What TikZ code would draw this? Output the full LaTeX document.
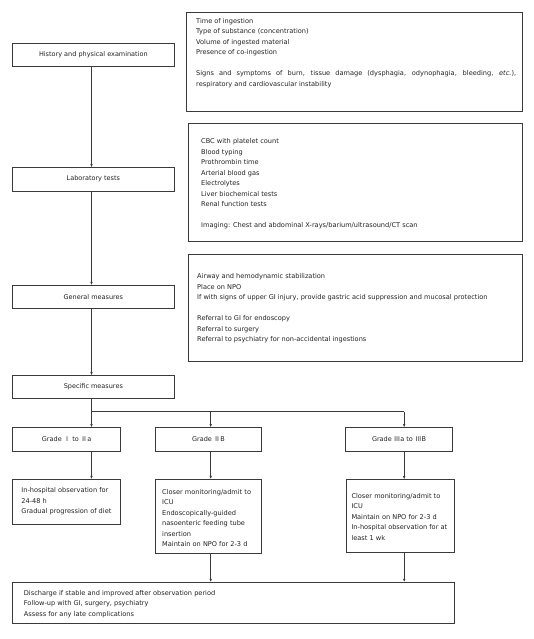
\documentclass[tikz,border=0pt]{standalone}
\usepackage{fontspec}
\setmainfont{DejaVu Sans}
\newfontfamily\cjk{Noto Sans CJK SC}
\usetikzlibrary{arrows.meta,calc}
\newcommand{\RmI}{{\cjk Ⅰ}}
\newcommand{\RmII}{{\cjk Ⅱ}}
\newcommand{\RmIII}{{\cjk Ⅲ}}
\definecolor{linec}{HTML}{3A3A3A}
\definecolor{textc}{HTML}{222222}
\begin{document}
\begin{tikzpicture}[x=1pt,y=-1pt,
  box/.style={draw=linec, line width=0.8pt, inner sep=0pt, outer sep=0pt, anchor=north west,
    font=\fontsize{6.5}{10.5}\selectfont, text=textc},
  txt/.style={inner sep=0pt, align=left, font=\fontsize{6.6}{10.5}\selectfont, text=textc},
  lin/.style={draw=linec, line width=0.7pt},
  arr/.style={draw=linec, line width=0.7pt, -{Latex[length=3.2pt,width=2.6pt]}}]
\useasboundingbox[fill=white] (0,0) rectangle (534,639);

% left column
\node[box, minimum width=161.3pt, minimum height=23.3pt] (hist) at (12.7,43) {History and physical examination};
\node[box, minimum width=161.3pt, minimum height=23.7pt] (labs) at (12.7,167.3) {Laboratory tests};
\node[box, minimum width=161.3pt, minimum height=23.5pt] (gen) at (12.7,285) {General measures};
\node[box, minimum width=161.3pt, minimum height=23.4pt] (spec) at (12.7,375.3) {Specific measures};

% right column boxes
\node[box, minimum width=336pt, minimum height=99pt] (r1) at (186,12.7) {};
\node[txt, anchor=north west, text width=320pt, align=justify] (r1t) at (196,18) {Time of ingestion\\Type of substance (concentration)\\Volume of ingested material\\Presence of co-ingestion\\[10.5pt]Signs and symptoms of burn, tissue damage (dysphagia, odynophagia, bleeding, \textit{etc.}),\linebreak respiratory and cardiovascular instability};

\node[box, minimum width=333.7pt, minimum height=118.4pt] (r2) at (188.3,123.3) {};
\node[txt, anchor=north west] (r2t) at (201,138.5) {CBC with platelet count\\Blood typing\\Prothrombin time\\Arterial blood gas\\Electrolytes\\Liver biochemical tests\\Renal function tests\\[10.5pt]Imaging: Chest and abdominal X-rays/barium/ultrasound/CT scan};

\node[box, minimum width=333.7pt, minimum height=107pt] (r3) at (188.3,254) {};
\node[txt, anchor=north west] (r3t) at (197,273.5) {Airway and hemodynamic stabilization\\Place on NPO\\If with signs of upper GI injury, provide gastric acid suppression and mucosal protection\\[10.5pt]Referral to GI for endoscopy\\Referral to surgery\\Referral to psychiatry for non-accidental ingestions};

% grade boxes
\node[box, minimum width=108pt, minimum height=24.4pt] (g1) at (12.7,427.3) {Grade \RmI{} to \RmII a};
\node[box, minimum width=105.6pt, minimum height=24.4pt] (g2) at (155.7,427.3) {Grade \RmII B};
\node[box, minimum width=107pt, minimum height=24.4pt] (g3) at (345.5,427.3) {Grade \RmIII a to \RmIII B};

% content boxes
\node[box, minimum width=108pt, minimum height=45pt] (c1) at (12.7,479) {};
\node[txt, anchor=west] (c1t) at ($(c1.west)+(8.5,0)$) {In-hospital observation for\\24-48 h\\Gradual progression of diet};

\node[box, minimum width=105.6pt, minimum height=74.3pt] (c2) at (155.7,479) {};
\node[txt, anchor=west] (c2t) at ($(c2.west)+(6.3,1.8)$) {Closer monitoring/admit to\\ICU\\Endoscopically-guided\\nasoenteric feeding tube\\insertion\\Maintain on NPO for 2-3 d};

\node[box, minimum width=107.7pt, minimum height=73pt] (c3) at (346.3,479.3) {};
\node[txt, anchor=west] (c3t) at ($(c3.west)+(5,1.2)$) {Closer monitoring/admit to\\ICU\\Maintain on NPO for 2-3 d\\In-hospital observation for at\\least 1 wk};

\node[box, minimum width=442pt, minimum height=41.3pt] (fin) at (12.7,582) {};
\node[txt, anchor=west] (fint) at ($(fin.west)+(11,1.3)$) {Discharge if stable and improved after observation period\\Follow-up with GI, surgery, psychiatry\\Assess for any late complications};

% connector columns
\coordinate (colA) at (91.5,0);
\coordinate (colB) at (210.7,0);
\coordinate (colC) at (404.2,0);
\coordinate (br) at (0,411.7);

\draw[arr] (hist.south -| colA) -- (labs.north -| colA);
\draw[arr] (labs.south -| colA) -- (gen.north -| colA);
\draw[arr] (gen.south -| colA) -- (spec.north -| colA);
\draw[lin] (spec.south -| colA) -- (br -| colA) -- (br -| colC);
\draw[arr] (br -| colA) -- (g1.north -| colA);
\draw[arr] (br -| colB) -- (g2.north -| colB);
\draw[arr] (br -| colC) -- (g3.north -| colC);
\draw[arr] (g1.south -| colA) -- (c1.north -| colA);
\draw[arr] (g2.south -| colB) -- (c2.north -| colB);
\draw[arr] (g3.south -| colC) -- (c3.north -| colC);
\draw[arr] (c2.south -| colB) -- (fin.north -| colB);
\draw[arr] (c3.south -| colC) -- (fin.north -| colC);
\end{tikzpicture}
\end{document}
